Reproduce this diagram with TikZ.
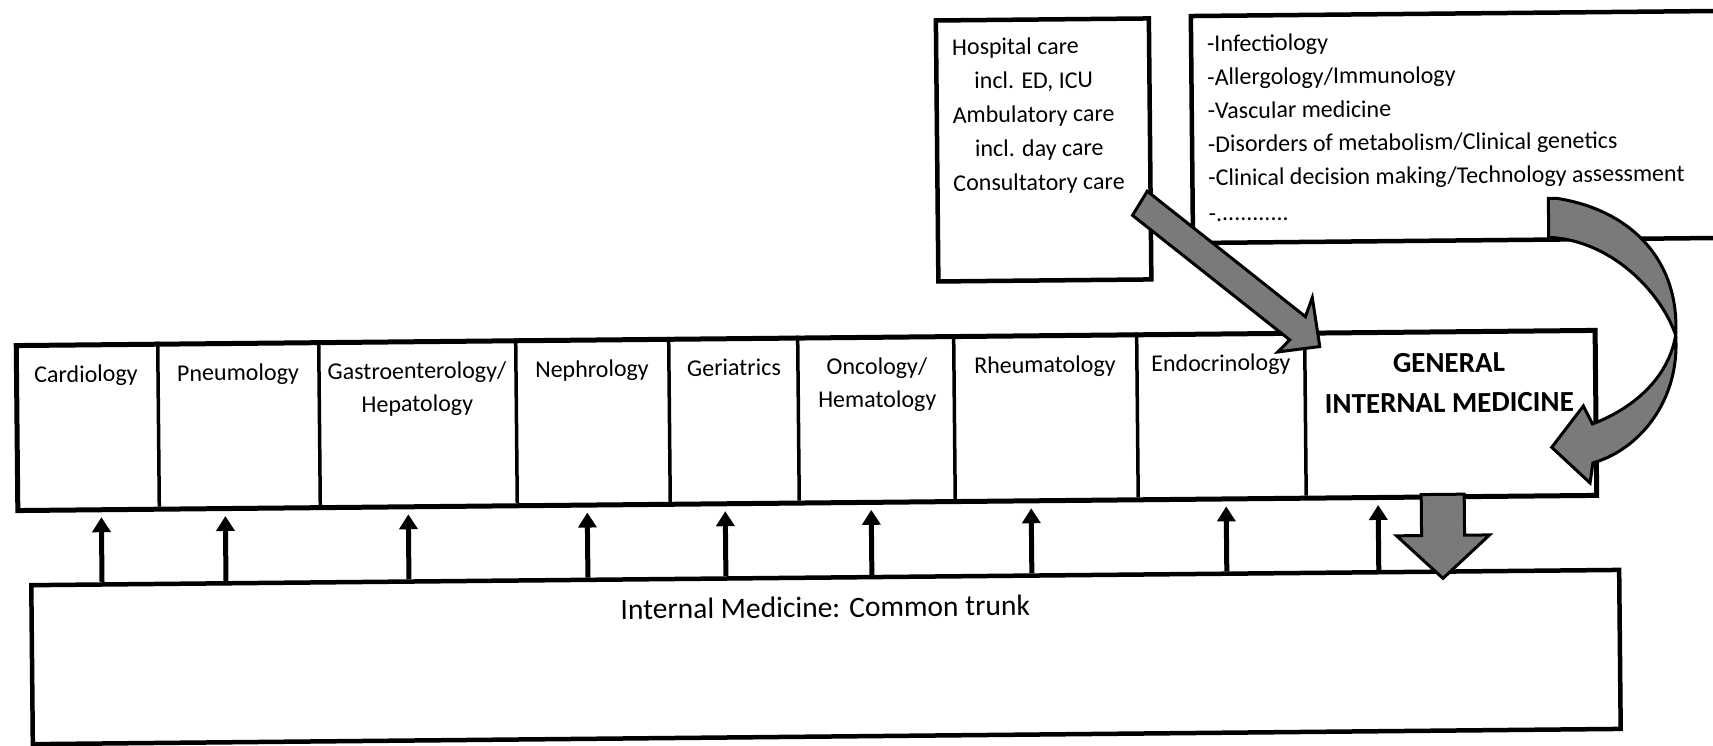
\documentclass[tikz,border=0pt]{standalone}
\usepackage{fontspec}
\setmainfont{Carlito}
\usetikzlibrary{arrows.meta,calc}
\begin{document}
\begin{tikzpicture}[x=1pt,y=-1pt,
  boxa/.style={draw, line width=4.5pt, inner sep=0pt, anchor=north west},
  divider/.style={line width=3.5pt},
  fat/.style={draw=black, line width=3pt, fill=black!52, line join=miter},
  uparrow/.style={line width=5pt, -{Triangle[width=18pt,length=15pt]}},
  lbl/.style={anchor=base, inner sep=0pt, align=center, font=\fontsize{24}{33}\selectfont},
  lst/.style={anchor=base west, inner sep=0pt, align=left},
]
\clip (0,0) rectangle (1713,745);
\fill[white] (0,0) rectangle (1713,745);
\begin{scope}[rotate around={0.55:(856,372)}, transform shape]
% top boxes
\node[boxa, minimum width=213pt, minimum height=261pt] (hosp) at (937,19) {};
\node[boxa, minimum width=700pt, minimum height=227pt] (subs) at (1192,17) {};
\node[lst, font=\fontsize{24}{34}\selectfont] (hosptxt) at (955,192)
  {Hospital care\\\hspace*{22pt}incl. ED, ICU\\Ambulatory care\\\hspace*{22pt}incl. day care\\Consultatory care};
\node[lst, font=\fontsize{24}{33.5}\selectfont] (substxt) at (1210,224.5)
  {-Infectiology\\-Allergology/Immunology\\-Vascular medicine\\-Disorders of metabolism/Clinical genetics\\-Clinical decision making/Technology assessment\\[2pt]-............};

% row of specialties
\node[boxa, line width=5pt, minimum width=1579pt, minimum height=165pt] (row) at (14,335) {};
\foreach \x in {158,319,516,669,798,954,1137,1305}
  \draw[divider] (\x,335) -- (\x,500);
\node[lbl] (card) at (86,374.6) {Cardiology};
\node[lbl] (pneu) at (238,374.6) {Pneumology};
\node[lbl] (gast) at (417,407.6) {Gastroenterology/\\Hepatology};
\node[lbl] (neph) at (592,374.6) {Nephrology};
\node[lbl] (geri) at (734,374.6) {Geriatrics};
\node[lbl] (onco) at (877,407.6) {Oncology/\\Hematology};
\node[lbl] (rheu) at (1045,374.6) {Rheumatology};
\node[lbl] (endo) at (1221,374.6) {Endocrinology};
\node[lbl, font=\fontsize{29}{40}\selectfont\bfseries] (gim) at (1449,418) {GENERAL\\INTERNAL MEDICINE};

% common trunk
\node[boxa, minimum width=1588pt, minimum height=159pt] (trunk) at (27,575) {};
\node[anchor=base, inner sep=0pt, font=\fontsize{29.5}{36}\selectfont] (trunktxt) at (823,617) {Internal Medicine: Common trunk};

% thin up arrows
\foreach \x [count=\i] in {100,224,407,586,724,870,1030,1225,1377} {
  \coordinate (t\i) at (\x,575);
  \coordinate (h\i) at (\x,510);
  \draw[uparrow] (t\i) -- (h\i);
}

% big down arrow
\draw[fat] (1420,500) -- (1463,500) -- (1463,541) -- (1488,541) -- (1441,584)
  -- (1395,541) -- (1420,541) -- cycle;

% diagonal arrow
\draw[fat] (1149,194) -- (1306,321) -- (1313,302) -- (1320,351) -- (1278,356)
  -- (1290,344) -- (1134,218) -- cycle;

% curved arrow
\draw[fat] (1550,205) -- (1558,205) .. controls (1632,217) and (1681,268) .. (1676,343)
  .. controls (1661,298) and (1611,247) .. (1550,244) -- cycle;
\draw[fat] (1676,343) .. controls (1680,408) and (1639,457) .. (1592,470)
  -- (1589,490) -- (1551,454) -- (1583,413) -- (1592,431)
  .. controls (1630,417) and (1668,388) .. (1676,343) -- cycle;
\end{scope}
\end{tikzpicture}
\end{document}
